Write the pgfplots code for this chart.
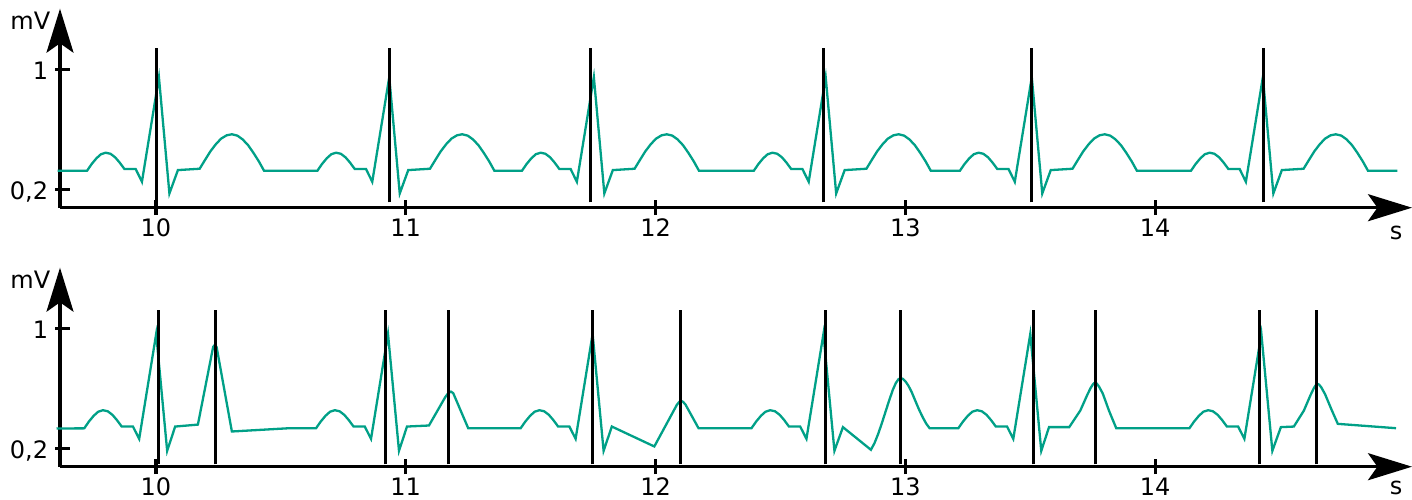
\documentclass[border=0pt]{standalone}
\usepackage{fontspec}
\setmainfont{DejaVu Sans}
\usepackage{pgfplots}
\pgfplotsset{compat=1.18}
\usetikzlibrary{arrows.meta}
\definecolor{ecg}{HTML}{00A087}
\newcommand{\lblfont}{\fontsize{12pt}{14pt}\selectfont}
\pgfplotsset{ecgaxis/.style={
  scale only axis, width=676pt, height=99.5pt,
  xmin=9.616, xmax=15.028, ymin=0.076, ymax=1.404,
  axis lines=left,
  axis line style={line width=1.6pt, -{Stealth[length=22pt,width=13.5pt,inset=4.7pt]}},
  xtick={10,11,12,13,14}, xticklabels={10,11,12,13,14},
  ytick={0.2,1}, yticklabels={{0,2},{1}},
  tick align=center, major tick length=7.5pt,
  tick style={line width=1.6pt, black},
  ytick style={xshift=1.4pt},
  tick label style={font=\lblfont},
  xticklabel style={anchor=base, inner sep=0pt, yshift=-10.5pt},
  yticklabel style={anchor=base east, inner sep=0pt, xshift=-2pt, yshift=-5.3pt},
  clip=false,
}}
\begin{document}
\begin{tikzpicture}
\begin{axis}[ecgaxis, at={(0pt,0pt)}, anchor=south west]
\addplot[ecg, line width=1.15pt] coordinates {
(9.606,0.322)
(9.724,0.322) (9.743,0.368) (9.762,0.406) (9.780,0.433) (9.799,0.443) (9.818,0.436) (9.837,0.412) (9.855,0.377) (9.874,0.334)
(9.919,0.334) (9.944,0.249) (10.012,0.947) (10.054,0.171) (10.088,0.327)
(10.175,0.336) (10.197,0.396) (10.218,0.452) (10.240,0.500) (10.261,0.537) (10.283,0.559) (10.304,0.566) (10.326,0.557) (10.347,0.532) (10.369,0.493) (10.390,0.443) (10.412,0.385) (10.433,0.322)
(10.646,0.322) (10.665,0.368) (10.684,0.406) (10.702,0.433) (10.721,0.443) (10.740,0.436) (10.759,0.412) (10.777,0.377) (10.796,0.334)
(10.841,0.334) (10.866,0.249) (10.934,0.947) (10.976,0.171) (11.010,0.327)
(11.097,0.336) (11.119,0.396) (11.140,0.452) (11.162,0.500) (11.183,0.537) (11.205,0.559) (11.226,0.566) (11.248,0.557) (11.269,0.532) (11.291,0.493) (11.312,0.443) (11.334,0.385) (11.355,0.322)
(11.465,0.322) (11.484,0.368) (11.503,0.406) (11.521,0.433) (11.540,0.443) (11.559,0.436) (11.578,0.412) (11.596,0.377) (11.615,0.334)
(11.660,0.334) (11.685,0.249) (11.753,0.947) (11.795,0.171) (11.829,0.327)
(11.916,0.336) (11.938,0.396) (11.959,0.452) (11.981,0.500) (12.002,0.537) (12.024,0.559) (12.045,0.566) (12.067,0.557) (12.088,0.532) (12.110,0.493) (12.131,0.443) (12.153,0.385) (12.174,0.322)
(12.393,0.322) (12.412,0.368) (12.431,0.406) (12.449,0.433) (12.468,0.443) (12.487,0.436) (12.506,0.412) (12.524,0.377) (12.543,0.334)
(12.588,0.334) (12.613,0.249) (12.681,0.947) (12.723,0.171) (12.757,0.327)
(12.844,0.336) (12.866,0.396) (12.887,0.452) (12.909,0.500) (12.930,0.537) (12.952,0.559) (12.973,0.566) (12.995,0.557) (13.016,0.532) (13.038,0.493) (13.059,0.443) (13.081,0.385) (13.102,0.322)
(13.218,0.322) (13.237,0.368) (13.256,0.406) (13.274,0.433) (13.293,0.443) (13.312,0.436) (13.331,0.412) (13.349,0.377) (13.368,0.334)
(13.413,0.334) (13.438,0.249) (13.506,0.947) (13.548,0.171) (13.582,0.327)
(13.669,0.336) (13.691,0.396) (13.712,0.452) (13.734,0.500) (13.755,0.537) (13.777,0.559) (13.798,0.566) (13.820,0.557) (13.841,0.532) (13.863,0.493) (13.884,0.443) (13.906,0.385) (13.927,0.322)
(14.143,0.322) (14.162,0.368) (14.181,0.406) (14.199,0.433) (14.218,0.443) (14.237,0.436) (14.256,0.412) (14.274,0.377) (14.293,0.334)
(14.338,0.334) (14.363,0.249) (14.431,0.947) (14.473,0.171) (14.507,0.327)
(14.594,0.336) (14.616,0.396) (14.637,0.452) (14.659,0.500) (14.680,0.537) (14.702,0.559) (14.723,0.566) (14.745,0.557) (14.766,0.532) (14.788,0.493) (14.809,0.443) (14.831,0.385) (14.852,0.322)
(14.969,0.322)
};
\addplot[black, line width=1.5pt, unbounded coords=jump] coordinates {
(10.003,0.112) (10.003,1.140) (10.003,nan)
(10.934,0.112) (10.934,1.140) (10.934,nan)
(11.741,0.112) (11.741,1.140) (11.741,nan)
(12.672,0.112) (12.672,1.140) (12.672,nan)
(13.503,0.112) (13.503,1.140) (13.503,nan)
(14.434,0.112) (14.434,1.140)
};
\end{axis}
\begin{axis}[ecgaxis, at={(0pt,-129.5pt)}, anchor=south west]
\addplot[ecg, line width=1.15pt] coordinates {
(9.602,0.331)
(9.713,0.332) (9.732,0.378) (9.751,0.416) (9.769,0.443) (9.788,0.453) (9.807,0.446) (9.826,0.422) (9.844,0.387) (9.863,0.344)
(9.908,0.344) (9.933,0.262) (10.001,0.962) (10.045,0.182) (10.077,0.344) (10.168,0.357) (10.229,0.875) (10.236,0.889) (10.243,0.874) (10.304,0.311) (10.535,0.333)
(10.641,0.333) (10.660,0.378) (10.679,0.416) (10.697,0.443) (10.716,0.453) (10.735,0.446) (10.754,0.422) (10.772,0.387) (10.791,0.344)
(10.836,0.344) (10.861,0.262) (10.929,0.962) (10.973,0.182) (11.005,0.344) (11.093,0.351) (11.158,0.540) (11.170,0.567) (11.181,0.577) (11.190,0.567) (11.250,0.333)
(11.460,0.333) (11.479,0.378) (11.498,0.416) (11.516,0.443) (11.535,0.453) (11.554,0.446) (11.573,0.422) (11.591,0.387) (11.610,0.344)
(11.655,0.344) (11.680,0.262) (11.748,0.962) (11.792,0.182) (11.825,0.344) (11.995,0.211) (12.085,0.488) (12.095,0.509) (12.102,0.515) (12.110,0.509) (12.120,0.490) (12.172,0.333)
(12.384,0.333) (12.403,0.378) (12.422,0.416) (12.440,0.443) (12.459,0.453) (12.478,0.446) (12.497,0.422) (12.515,0.387) (12.534,0.344)
(12.579,0.344) (12.604,0.262) (12.672,0.962) (12.716,0.182) (12.750,0.340) (12.862,0.189) (12.876,0.232) (12.890,0.290) (12.905,0.362) (12.920,0.440) (12.935,0.518) (12.950,0.590) (12.962,0.635) (12.972,0.659) (12.981,0.667) (12.990,0.662) (13.000,0.646) (13.012,0.617) (13.025,0.575) (13.040,0.515) (13.055,0.456) (13.070,0.404) (13.084,0.362) (13.097,0.333)
(13.212,0.333) (13.231,0.378) (13.250,0.416) (13.268,0.443) (13.287,0.453) (13.306,0.446) (13.325,0.422) (13.343,0.387) (13.362,0.344)
(13.407,0.344) (13.432,0.262) (13.500,0.962) (13.544,0.182) (13.575,0.340) (13.656,0.340) (13.700,0.450) (13.728,0.555) (13.742,0.603) (13.751,0.626) (13.758,0.637) (13.766,0.631) (13.775,0.611) (13.790,0.565) (13.815,0.450) (13.844,0.333)
(14.137,0.333) (14.156,0.378) (14.175,0.416) (14.193,0.443) (14.212,0.453) (14.231,0.446) (14.250,0.422) (14.268,0.387) (14.287,0.344)
(14.332,0.344) (14.357,0.262) (14.425,0.962) (14.469,0.182) (14.503,0.340) (14.555,0.344) (14.595,0.450) (14.622,0.555) (14.635,0.600) (14.643,0.620) (14.649,0.629) (14.656,0.624) (14.665,0.605) (14.680,0.560) (14.705,0.460) (14.731,0.362) (14.964,0.333)
};
\addplot[black, line width=1.5pt, unbounded coords=jump] coordinates {
(10.012,0.092) (10.012,1.122) (10.012,nan)
(10.239,0.092) (10.239,1.122) (10.239,nan)
(10.920,0.092) (10.920,1.122) (10.920,nan)
(11.172,0.092) (11.172,1.122) (11.172,nan)
(11.748,0.092) (11.748,1.122) (11.748,nan)
(12.100,0.092) (12.100,1.122) (12.100,nan)
(12.680,0.092) (12.680,1.122) (12.680,nan)
(12.981,0.092) (12.981,1.122) (12.981,nan)
(13.511,0.092) (13.511,1.122) (13.511,nan)
(13.761,0.092) (13.761,1.122) (13.761,nan)
(14.416,0.092) (14.416,1.122) (14.416,nan)
(14.644,0.092) (14.644,1.122)
};
\end{axis}
\node[anchor=base west, inner sep=0pt, font=\lblfont] at (-25pt,89.2pt) {mV};
\node[anchor=base, inner sep=0pt, font=\lblfont] at (668pt,-15.7pt) {s};
\node[anchor=base west, inner sep=0pt, font=\lblfont] at (-25pt,-40.3pt) {mV};
\node[anchor=base, inner sep=0pt, font=\lblfont] at (668pt,-143.3pt) {s};
\pgfresetboundingbox
\useasboundingbox (-30pt,-145.65pt) rectangle (676pt,103.85pt);
\end{tikzpicture}
\end{document}
